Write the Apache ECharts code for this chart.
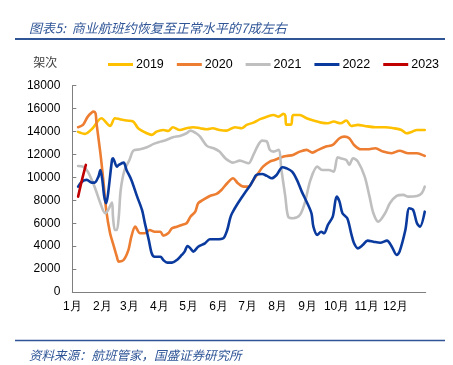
<!DOCTYPE html>
<html>
<head>
<meta charset="utf-8">
<script src="https://cdn.jsdelivr.net/npm/echarts@6/dist/echarts.min.js"></script>
<style>html,body{margin:0;padding:0;background:#fff}#c{width:453px;height:365px}</style>
</head>
<body>
<div id="c"></div>
<script>
// Day-of-year positions where each month starts, and their labels
var monthStarts = [0, 31, 59, 90, 120, 151, 181, 212, 243, 273, 304, 334];
var monthLabels = ['1月','2月','3月','4月','5月','6月','7月','8月','9月','10月','11月','12月'];
var seriesNames = ['2019','2020','2021','2022','2023'];

// [day of year, flights]
var s2019 = [[6,13970],[13,13800],[21,14290],[30,15160],[39,14490],[44,15160],[49,15080],[56,14960],[63,14870],[68,14290],[77,13850],[82,13710],[87,13990],[94,14140],[99,14050],[104,14380],[111,14140],[118,14290],[125,14380],[132,14290],[139,14200],[145,14290],[152,14140],[159,14080],[168,14380],[175,14290],[180,14580],[187,14780],[194,15080],[201,15300],[208,15450],[213,15300],[218,15540],[220,15400],[221,14600],[226,14600],[228,15450],[235,15450],[242,15160],[249,14960],[257,14780],[264,14720],[270,14870],[277,14720],[283,14960],[288,14490],[295,14580],[302,14490],[313,14380],[323,14380],[332,14290],[340,14140],[345,13850],[351,13990],[356,14140],[364,14140]];
var s2020 = [[6,14380],[11,14580],[16,15300],[22,15740],[24,15600],[25,14730],[29,12110],[32,9780],[35,7160],[39,5120],[42,4250],[46,3080],[48,2650],[53,2790],[58,3670],[61,4830],[65,5700],[70,5120],[75,5120],[80,5410],[85,5260],[91,5260],[94,4910],[99,5120],[103,5560],[108,5700],[113,5850],[118,6000],[122,6570],[127,7010],[130,7740],[135,8030],[142,8380],[149,8560],[154,8900],[160,9490],[166,9930],[171,9490],[177,9190],[182,9190],[187,9780],[192,10360],[197,10940],[204,11380],[209,11520],[216,11760],[221,11870],[228,11960],[235,12250],[242,12400],[248,12160],[254,12400],[262,12690],[269,12830],[276,13420],[281,13560],[286,13420],[291,12830],[298,12450],[305,12450],[313,12540],[321,12250],[330,12110],[338,12330],[347,12110],[356,12110],[364,11870]];
var s2021 = [[6,11000],[11,10940],[16,10500],[23,9190],[29,7740],[34,6870],[37,7160],[41,7800],[42,6570],[44,5410],[46,5410],[48,6570],[50,8900],[54,10650],[59,11520],[63,12330],[70,12450],[77,12630],[84,12920],[91,13120],[97,13270],[104,13500],[111,13620],[118,13850],[122,14080],[128,13850],[132,13560],[139,12750],[146,12540],[152,12250],[158,11670],[163,11380],[166,11290],[173,11460],[182,11230],[187,11960],[192,12830],[196,13210],[201,13120],[204,12400],[208,12250],[213,12400],[216,10650],[220,8320],[223,6570],[228,6430],[235,6720],[240,7740],[246,9780],[253,10940],[258,10650],[265,10650],[270,10500],[274,11760],[277,11670],[283,11520],[286,11090],[290,11670],[295,11380],[302,10070],[307,8320],[311,6870],[316,6140],[323,6870],[328,7740],[335,8380],[342,8470],[347,8320],[356,8380],[361,8620],[364,9190]];
var s2022 = [[6,9190],[10,9630],[15,9780],[20,9540],[23,9540],[27,10070],[29,10650],[31,9780],[33,8320],[35,7740],[37,8620],[41,11520],[42,11670],[46,10940],[48,11090],[53,11290],[56,10650],[61,9780],[67,8320],[72,7160],[75,5990],[79,4540],[82,3380],[85,3080],[91,3080],[94,2790],[98,2560],[103,2560],[108,2790],[113,3230],[116,3520],[119,4020],[122,3810],[125,3520],[130,3950],[137,4250],[142,4600],[149,4600],[156,4690],[160,5410],[163,6430],[165,6870],[171,7740],[178,8620],[184,9340],[187,9780],[190,10210],[196,10300],[201,10130],[206,9930],[211,10210],[217,10890],[221,10800],[227,10500],[232,9780],[237,8760],[242,7880],[247,6870],[249,5700],[253,4980],[257,5260],[260,5120],[264,5850],[269,6570],[273,8320],[276,7880],[279,6870],[284,6430],[288,5120],[291,4250],[295,3810],[300,4100],[305,4480],[311,4390],[318,4300],[325,4480],[330,3950],[335,3230],[338,3520],[344,5410],[348,7310],[352,7160],[356,5990],[359,5700],[364,7010]];
var s2023 = [[6,8320],[10,9780],[14,11090]];

var colors = ['#FFC000','#ED7D31','#BFBFBF','#0A3A9E','#C00000'];
var dataList = [s2019, s2020, s2021, s2022, s2023];

var chart = echarts.init(document.getElementById('c'), null, {renderer:'canvas'});
var font = "'Liberation Sans', Arial, sans-serif";
var option = {
  animation: false,
  backgroundColor: '#fff',
  title: [
    {text: '图表5:  商业航班约恢复至正常水平的7成左右', left: 24, top: 17,
     textStyle: {fontSize: 13, fontStyle: 'italic', fontWeight: 'normal', color: '#2F5597', fontFamily: "'Noto Sans CJK SC', sans-serif"}},
    {text: '资料来源：航班管家，国盛证券研究所', left: 24, top: 344,
     textStyle: {fontSize: 12.5, fontStyle: 'italic', fontWeight: 'normal', color: '#2F5597', fontFamily: "'Noto Sans CJK SC', sans-serif"}}
  ],
  graphic: [
    {type: 'line', shape: {x1: 15, y1: 39, x2: 445, y2: 39}, style: {stroke: '#2F5597', lineWidth: 2}},
    {type: 'line', shape: {x1: 15, y1: 340.5, x2: 445, y2: 340.5}, style: {stroke: '#2F5597', lineWidth: 1.5}}
  ],
  color: colors,
  legend: {
    data: seriesNames, left: 103, top: 53, itemWidth: 25, itemHeight: 3, itemGap: 13,
    icon: 'rect', textStyle: {fontSize: 12.5, color: '#000', fontFamily: font, padding: [0,0,0,-2]}
  },
  grid: {left: 72.3, right: 27.3, top: 85.7, bottom: 73, containLabel: false},
  xAxis: {
    type: 'value', min: 0, max: 365,
    axisLine: {show: true, lineStyle: {color: '#7F7F7F', width: 1}},
    axisTick: {show: false},
    splitLine: {show: false},
    axisLabel: {
      customValues: monthStarts,
      margin: 9, fontSize: 12, color: '#000', fontFamily: font,
      formatter: function (v) { var i = monthStarts.indexOf(v); return i >= 0 ? monthLabels[i] : ''; }
    }
  },
  yAxis: {
    type: 'value', min: 0, max: 18000, interval: 2000,
    name: '架次', nameLocation: 'end', nameGap: 17,
    nameTextStyle: {fontSize: 12, color: '#404040', align: 'right', padding: [0, 15, 0, 0], fontFamily: "'Noto Sans CJK SC', sans-serif"},
    axisLine: {show: true, lineStyle: {color: '#7F7F7F', width: 1}},
    axisTick: {show: true, inside: true, length: 4, lineStyle: {color: '#7F7F7F'}},
    splitLine: {show: false},
    axisLabel: {margin: 12, fontSize: 12, color: '#000', fontFamily: font,
      formatter: function (v) { return String(v); }}
  },
  series: seriesNames.map(function (n, i) {
    return {
      name: n, type: 'line', data: dataList[i], showSymbol: false, symbol: 'none',
      smooth: 0.3, z: i === 4 ? 5 : 2,
      lineStyle: {width: 2.6, color: colors[i], cap: 'round', join: 'round'}
    };
  })
};
chart.setOption(option);
</script>
</body>
</html>
